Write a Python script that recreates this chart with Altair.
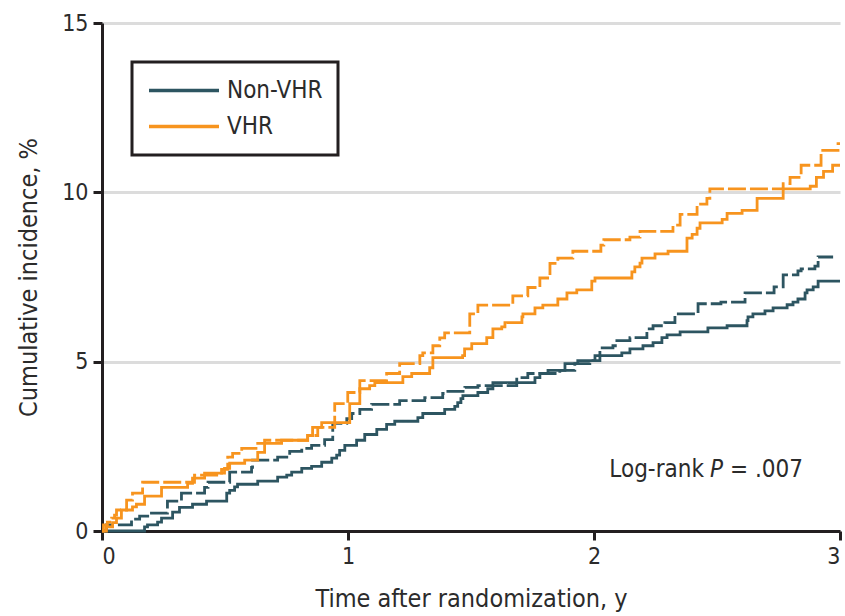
import altair as alt
import pandas as pd

# ---- data (time in years, cumulative incidence in %) ----
nonvhr_solid_t = [0.0, 0.173, 0.185, 0.226, 0.242, 0.287, 0.315, 0.368, 0.425, 0.507, 0.519, 0.539, 0.551,
                  0.633, 0.714, 0.751, 0.771, 0.812, 0.852, 0.893, 0.934, 0.954, 0.966, 0.987, 1.035, 1.068,
                  1.117, 1.157, 1.190, 1.284, 1.304, 1.393, 1.434, 1.446, 1.459, 1.467, 1.528, 1.568, 1.589,
                  1.760, 1.780, 1.813, 1.882, 1.934, 2.004, 2.113, 2.146, 2.199, 2.240, 2.276, 2.297, 2.350,
                  2.463, 2.541, 2.622, 2.626, 2.646, 2.695, 2.728, 2.785, 2.809, 2.829, 2.858, 2.866, 2.891,
                  2.911, 3.0]
nonvhr_solid_v = [0.0, 0.12, 0.18, 0.26, 0.38, 0.56, 0.70, 0.79, 0.88, 1.12, 1.20, 1.30, 1.38,
                  1.47, 1.59, 1.65, 1.74, 1.85, 1.91, 2.03, 2.15, 2.24, 2.38, 2.53, 2.68, 2.85,
                  3.00, 3.15, 3.24, 3.35, 3.47, 3.59, 3.68, 3.79, 3.91, 4.00, 4.09, 4.20, 4.38,
                  4.53, 4.65, 4.74, 4.94, 5.03, 5.18, 5.26, 5.38, 5.47, 5.56, 5.71, 5.79, 5.88,
                  6.00, 6.06, 6.21, 6.32, 6.41, 6.50, 6.59, 6.68, 6.76, 6.85, 7.03, 7.12, 7.21,
                  7.38, 7.38]

nonvhr_dash_t = [0.0, 0.018, 0.120, 0.153, 0.193, 0.266, 0.323, 0.417, 0.431, 0.519, 0.608, 0.612, 0.714,
                 0.763, 0.812, 0.852, 0.905, 0.938, 0.995, 1.015, 1.048, 1.096, 1.210, 1.312, 1.385, 1.393,
                 1.475, 1.528, 1.686, 1.731, 1.861, 1.922, 1.983, 2.024, 2.077, 2.093, 2.146, 2.215, 2.240,
                 2.288, 2.329, 2.423, 2.516, 2.614, 2.732, 2.769, 2.829, 2.842, 2.898, 2.911, 2.972]
nonvhr_dash_v = [0.0, 0.18, 0.35, 0.44, 0.53, 0.88, 1.12, 1.29, 1.44, 1.74, 1.88, 2.09, 2.18,
                 2.35, 2.44, 2.53, 2.70, 3.18, 3.32, 3.47, 3.59, 3.74, 3.85, 3.94, 4.06, 4.12,
                 4.24, 4.29, 4.53, 4.65, 4.74, 4.94, 5.03, 5.41, 5.47, 5.62, 5.71, 5.97, 6.06,
                 6.15, 6.41, 6.71, 6.76, 7.03, 7.21, 7.56, 7.68, 7.74, 7.82, 8.09, 8.09]

vhr_solid_t = [0.0, 0.018, 0.043, 0.059, 0.079, 0.124, 0.140, 0.173, 0.242, 0.348, 0.368, 0.417, 0.498,
               0.519, 0.580, 0.633, 0.661, 0.730, 0.836, 0.856, 0.893, 1.007, 1.048, 1.088, 1.109, 1.223,
               1.259, 1.332, 1.345, 1.466, 1.474, 1.503, 1.564, 1.589, 1.625, 1.638, 1.707, 1.711, 1.760,
               1.792, 1.853, 1.890, 1.930, 1.991, 2.004, 2.154, 2.166, 2.187, 2.195, 2.248, 2.301, 2.378,
               2.399, 2.419, 2.431, 2.521, 2.541, 2.602, 2.663, 2.769, 2.879, 2.904, 2.933, 2.970, 3.0]
vhr_solid_v = [0.0, 0.12, 0.25, 0.38, 0.62, 0.71, 0.79, 1.03, 1.29, 1.41, 1.56, 1.71, 1.85,
               2.00, 2.09, 2.32, 2.59, 2.68, 2.82, 3.06, 3.20, 3.76, 4.20, 4.29, 4.38, 4.56,
               4.65, 4.82, 5.12, 5.18, 5.38, 5.53, 5.71, 5.97, 6.03, 6.15, 6.32, 6.41, 6.59,
               6.67, 6.85, 7.03, 7.12, 7.38, 7.47, 7.65, 7.80, 7.91, 8.06, 8.18, 8.26, 8.65,
               8.76, 8.94, 9.10, 9.20, 9.38, 9.47, 9.82, 10.10, 10.18, 10.44, 10.62, 10.80, 10.80]

vhr_dash_t = [0.0, 0.006, 0.022, 0.039, 0.051, 0.059, 0.100, 0.124, 0.165, 0.376, 0.486, 0.511, 0.531,
              0.568, 0.633, 0.661, 0.836, 0.877, 0.946, 0.999, 1.048, 1.157, 1.210, 1.292, 1.304, 1.345,
              1.373, 1.393, 1.495, 1.528, 1.670, 1.731, 1.780, 1.821, 1.853, 1.914, 2.028, 2.040, 2.146,
              2.187, 2.321, 2.350, 2.419, 2.459, 2.471, 2.769, 2.797, 2.842, 2.923, 2.992, 3.0]
vhr_dash_v = [0.0, 0.18, 0.26, 0.38, 0.47, 0.62, 0.91, 1.12, 1.44, 1.65, 1.82, 2.18, 2.29,
              2.44, 2.59, 2.68, 2.82, 3.06, 3.76, 4.09, 4.44, 4.65, 4.94, 5.18, 5.26, 5.47,
              5.70, 5.85, 6.41, 6.67, 6.94, 7.19, 7.47, 7.90, 8.06, 8.26, 8.44, 8.60, 8.68,
              8.85, 9.03, 9.35, 9.65, 9.82, 10.10, 10.26, 10.44, 10.80, 11.24, 11.44, 11.44]

groups = ["Non-VHR", "VHR"]
colors = ["#2d5561", "#f7941e"]
x_ticks = [0, 1, 2, 3]
y_ticks = [0, 5, 10, 15]

annot_text = ["Log-rank", "P", "= .007"]
annot_t = [2.447, 2.472, 2.553]
annot_v = [1.8, 1.8, 1.8]

FONT = "DejaVu Sans Condensed, sans-serif"
TXT = "#2b2b2b"

rows = []
for name, grp, sty, ts, vs in [
    ("nv_solid", "Non-VHR", "solid", nonvhr_solid_t, nonvhr_solid_v),
    ("nv_dash", "Non-VHR", "dashed", nonvhr_dash_t, nonvhr_dash_v),
    ("v_solid", "VHR", "solid", vhr_solid_t, vhr_solid_v),
    ("v_dash", "VHR", "dashed", vhr_dash_t, vhr_dash_v),
]:
    for t, v in zip(ts, vs):
        rows.append({"series": name, "group": grp, "style": sty, "t": t, "v": v})
df = pd.DataFrame(rows)

xscale = alt.Scale(domain=[0, 3], nice=False, zero=False)
yscale = alt.Scale(domain=[0, 15], nice=False)

lines = alt.Chart(df).mark_line(interpolate="step-after", strokeWidth=2.8).encode(
    x=alt.X("t:Q", scale=xscale,
            axis=alt.Axis(title="Time after randomization, y", values=x_ticks, format="d",
                          grid=False, titlePadding=18, labelPadding=5)),
    y=alt.Y("v:Q", scale=yscale,
            axis=alt.Axis(title="Cumulative incidence, %", values=y_ticks, format="d",
                          grid=True, titlePadding=20, labelPadding=5)),
    color=alt.Color("group:N", scale=alt.Scale(domain=groups, range=colors),
                    legend=alt.Legend(title=None, orient="none", legendX=30, legendY=39)),
    strokeDash=alt.StrokeDash("style:N",
                              scale=alt.Scale(domain=["solid", "dashed"], range=[[1, 0], [18, 4]]),
                              legend=None),
    detail="series:N",
)

adf = pd.DataFrame({"text": annot_text, "t": annot_t, "v": annot_v})
a1 = alt.Chart(adf[adf.text == "Log-rank"]).mark_text(
    align="right", baseline="middle", font=FONT, fontSize=24, color=TXT
).encode(x="t:Q", y="v:Q", text="text:N")
a2 = alt.Chart(adf[adf.text == "P"]).mark_text(
    align="left", baseline="middle", font=FONT, fontSize=24, fontStyle="italic", color=TXT
).encode(x="t:Q", y="v:Q", text="text:N")
a3 = alt.Chart(adf[adf.text == "= .007"]).mark_text(
    align="left", baseline="middle", font=FONT, fontSize=24, color=TXT
).encode(x="t:Q", y="v:Q", text="text:N")

chart = alt.layer(lines, a1, a2, a3).properties(
    width=738, height=508,
    autosize=alt.AutoSizeParams(type="none"),
    padding={"left": 102, "top": 23, "right": 5, "bottom": 85},
).configure_view(stroke=None).configure_axis(
    domainColor="#231f20", domainWidth=3,
    tickColor="#231f20", tickWidth=3, tickSize=9,
    labelFont=FONT, labelFontSize=23, labelColor=TXT,
    titleFont=FONT, titleFontSize=25, titleFontWeight="normal", titleColor=TXT,
    gridColor="#dcdcdc", gridWidth=3,
).configure_legend(
    strokeColor="#231f20", strokeWidth=3, padding=15,
    symbolType="stroke", symbolSize=4900, symbolStrokeWidth=3.5,
    labelFont=FONT, labelFontSize=24, labelColor=TXT, labelOffset=6,
    clipHeight=27, rowPadding=9,
)

chart.save("out.html", embed_options={"renderer": "svg", "actions": False})
